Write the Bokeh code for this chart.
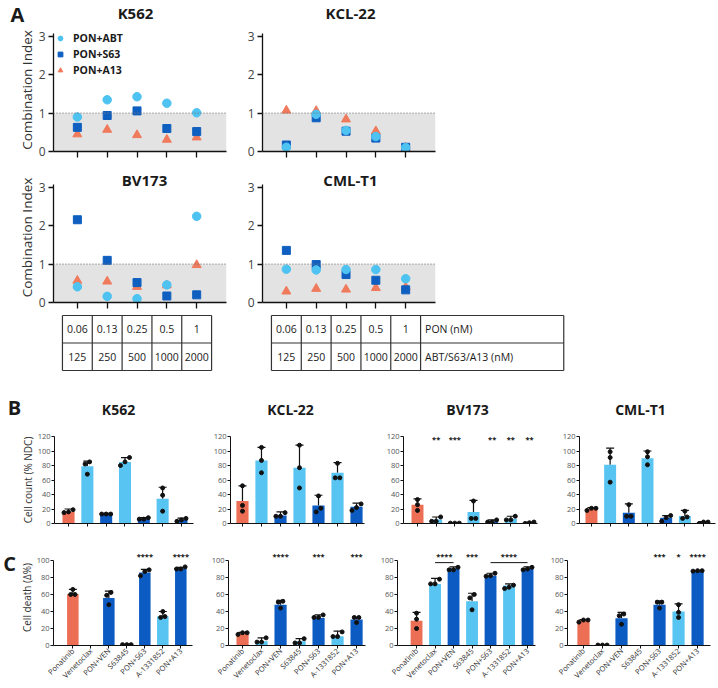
import math
from bokeh.plotting import figure
from bokeh.models import (Range1d, FixedTicker, BoxAnnotation, Span, LabelSet,
                          ColumnDataSource, Legend, LegendItem, Whisker, TeeHead)
from bokeh.layouts import row, column
from bokeh.embed import file_html
from bokeh.resources import INLINE
from bokeh.core.properties import value

FONT = "Open Sans"
INK = "#1a1a1a"

# ---------------- Panel A data (combination index) ----------------
cell_lines = ["K562", "KCL-22", "BV173", "CML-T1"]
panel_letters = ["A", "B", "C"]
pon_nM = ["0.06", "0.13", "0.25", "0.5", "1"]
partner_nM = ["125", "250", "500", "1000", "2000"]
table_row_labels = ["PON (nM)", "ABT/S63/A13 (nM)"]
combo_names = ["PON+ABT", "PON+S63", "PON+A13"]
ci_ticks = [0, 1, 2, 3]

ci_k562_abt = [0.90, 1.35, 1.43, 1.26, 1.01]
ci_k562_s63 = [0.63, 0.94, 1.06, 0.60, 0.52]
ci_k562_a13 = [0.45, 0.57, 0.43, 0.31, 0.37]
ci_kcl22_abt = [0.11, 0.97, 0.55, 0.39, 0.10]
ci_kcl22_s63 = [0.17, 0.88, 0.53, 0.35, 0.11]
ci_kcl22_a13 = [1.07, 1.06, 0.84, 0.53, 0.10]
ci_bv173_abt = [0.41, 0.16, 0.10, 0.46, 2.25]
ci_bv173_s63 = [2.16, 1.10, 0.52, 0.17, 0.20]
ci_bv173_a13 = [0.57, 0.55, 0.41, 0.45, 0.98]
ci_cmlt1_abt = [0.87, 0.85, 0.86, 0.86, 0.62]
ci_cmlt1_s63 = [1.36, 0.99, 0.73, 0.58, 0.33]
ci_cmlt1_a13 = [0.29, 0.36, 0.34, 0.38, 0.40]

# ---------------- Panels B / C data ----------------
drugs = ["Ponatinib", "Venetoclax", "PON+VEN", "S63845", "PON+S63", "A-1331852", "PON+A13"]
count_ticks = [0, 20, 40, 60, 80, 100, 120]
death_ticks = [0, 20, 40, 60, 80, 100]
nan = float("nan")

# B: cell count (% NDC)
cnt_k562_mean = [16, 79, 13, 85, 6.5, 34, 5]
cnt_k562_sd = [4, 7, 1, 6, 1.5, 16, 2.5]
cnt_k562_reps = [[19, 15, 16], [85, 82, 68], [13, 13, 13], [91, 85, 80], [6, 8, 6], [49, 39, 17], [3, 7, 5]]

cnt_kcl22_mean = [31, 87, 11, 77, 25, 70, 23]
cnt_kcl22_sd = [21, 18, 5, 31, 14, 14, 5]
cnt_kcl22_reps = [[52, 25, 17], [105, 87, 70], [15, 10, 10], [108, 77, 49], [38, 16, 21], [83, 63, 63], [27, 18, 22]]

cnt_bv173_mean = [26, 5.5, 0.5, 16, 3, 6.5, 1]
cnt_bv173_sd = [8, 3.5, 0.3, 16, 2, 3.5, 1]
cnt_bv173_reps = [[33, 26, 18], [9, 3, 3], [0.5, 0.5, 0.5], [31, 7, 7], [5, 2, 2], [10, 5, 5], [0, 1, 2]]
cnt_bv173_stars = ["", "**", "***", "", "**", "**", "**"]

cnt_cmlt1_mean = [20.5, 81, 15, 90, 8, 10.5, 1.5]
cnt_cmlt1_sd = [1.5, 23, 12, 10, 3, 7.5, 1]
cnt_cmlt1_reps = [[18, 21, 21], [99, 91, 57], [26, 10, 10], [99, 92, 81], [11, 3, 8], [17, 7, 9], [0, 2, 2]]

# C: cell death (delta %)
dth_k562_mean = [60.5, nan, 56, 1, 86, 34, 90.5]
dth_k562_sd = [5.5, 0, 8, 0.3, 3.5, 6, 1.5]
dth_k562_reps = [[66, 60, 60], [], [62.5, 59, 48], [1, 1, 1], [89, 87, 82], [40, 34, 33], [90, 92.5, 90]]
dth_k562_stars = ["", "", "", "", "****", "", "****"]

dth_kcl22_mean = [14, 5, 48, 5, 32.5, 11, 30.5]
dth_kcl22_sd = [1.5, 4, 5, 3, 3.5, 6, 2.5]
dth_kcl22_reps = [[15, 13, 15], [9, 4, 4], [52, 51, 44], [8, 3, 3], [36, 33, 33], [16, 10.5, 10.5], [33, 33, 27]]
dth_kcl22_stars = ["", "", "****", "", "***", "", "***"]

dth_bv173_mean = [29, 72.5, 91, 52, 82, 70.5, 91]
dth_bv173_sd = [10, 6.5, 1.5, 9.5, 3, 2, 1.5]
dth_bv173_reps = [[38, 31, 20], [78, 72.5, 72.5], [92, 89, 89], [60, 56, 42], [85, 82, 81.5], [71, 67, 68.5], [92, 89, 90]]
dth_bv173_stars = ["", "", "", "***", "", "", ""]
dth_bv173_brackets = [("Venetoclax", "PON+VEN", "****"), ("PON+S63", "PON+A13", "****")]

dth_cmlt1_mean = [29.5, 0.5, 32, nan, 48, 40, 87.5]
dth_cmlt1_sd = [1, 0, 7, 0, 4.5, 9, 0.5]
dth_cmlt1_reps = [[27.5, 30, 30], [0.5, 0.5, 0.5], [37, 35, 25], [], [51, 51, 44], [48, 39, 33], [87.5, 88, 88]]
dth_cmlt1_stars = ["", "", "", "", "***", "*", "****"]

# ---------------- styles ----------------
C_ABT = "#4EC3F1"
C_S63 = "#0F5FC0"
C_A13 = "#F07A5C"
C_PON = "#EC6E55"
C_LIGHT = "#58C4F1"
C_DARK = "#0B5BC3"
drug_colors = [C_PON, C_LIGHT, C_DARK, C_LIGHT, C_DARK, C_LIGHT, C_DARK]


def base_fig(w, h, bl, br, bt, bb, xr, yr, axes=True):
    kw = {} if axes else dict(x_axis_type=None, y_axis_type=None)
    p = figure(width=w, height=h, x_range=xr, y_range=yr, title=None,
               toolbar_location=None, output_backend="svg",
               min_border_left=bl, min_border_right=br,
               min_border_top=bt, min_border_bottom=bb, **kw)
    p.outline_line_color = None
    p.grid.visible = False
    p.background_fill_color = "white"
    p.border_fill_color = "white"
    return p


def text_strip(w, h, items):
    """A strip whose frame is the whole figure: holds panel letters and titles."""
    p = base_fig(w, h, 0, 0, 0, 0, Range1d(0, w), Range1d(h, 0), axes=False)
    for (x, y, t, size) in items:
        p.text(x=[x], y=[y], text=[t], text_align="center", text_baseline="middle",
               text_font=value(FONT), text_font_size=size, text_font_style="bold",
               text_color=INK)
    return p


def style_axis(ax, size, color="#444", line_width=1.0, tick_out=4, standoff=2):
    ax.axis_line_color = "#111"
    ax.axis_line_width = line_width
    ax.major_tick_line_color = "#111"
    ax.major_tick_line_width = line_width
    ax.major_tick_in = 0
    ax.major_tick_out = tick_out
    ax.minor_tick_line_color = None
    ax.major_label_text_font = FONT
    ax.major_label_text_font_size = size
    ax.major_label_text_color = color
    ax.major_label_standoff = standoff
    ax.axis_label_text_font = FONT
    ax.axis_label_text_font_style = "normal"
    ax.axis_label_text_color = "#333"
    ax.axis_label_standoff = 0


def hide_x_labels(ax, ticks):
    ax.major_label_overrides = {t: "" for t in ticks}
    ax.major_label_text_font_size = "1px"
    ax.major_label_standoff = 0


# ---------------- Panel A ----------------
A_XR = (0.2, 6.0)
A_TOP = 3.08
A_PPU_Y = 118 / A_TOP  # pixels per CI unit


def ci_panel(w, h, bl, br, bt, bb, y_end, abt, s63, a13, ylabel=None, legend=False,
             title=None):
    xs = list(range(1, len(pon_nM) + 1))
    p = base_fig(w, h, bl, br, bt, bb, Range1d(*A_XR), Range1d(0, y_end))
    p.add_layout(BoxAnnotation(bottom=0, top=1, fill_color="#e3e3e3", fill_alpha=1.0,
                               line_color=None, level="underlay"))
    p.add_layout(Span(location=1, dimension="width", line_color="#777777",
                      line_dash="1 2", line_width=1.3))
    r3 = p.scatter(xs, a13, marker="triangle", size=9, color=C_A13)
    r2 = p.scatter(xs, s63, marker="square", size=8, color=C_S63)
    r1 = p.scatter(xs, abt, marker="circle", size=8.5, color=C_ABT)
    style_axis(p.yaxis[0], "12px", "#444", line_width=1.3, tick_out=5, standoff=3)
    style_axis(p.xaxis[0], "1px", "#444", line_width=1.3, tick_out=6, standoff=0)
    p.yaxis.ticker = FixedTicker(ticks=ci_ticks)
    p.yaxis.bounds = (0, A_TOP)
    p.xaxis.ticker = FixedTicker(ticks=xs)
    hide_x_labels(p.xaxis[0], xs)
    if ylabel:
        p.yaxis.axis_label = ylabel
        p.yaxis.axis_label_text_font_size = "13.5px"
    if title:
        tx, ty, tt = title
        p.text(x=[tx], y=[ty], text=[tt], text_align="center", text_baseline="middle",
               text_font=value(FONT), text_font_size="15px", text_font_style="bold",
               text_color=INK)
    if legend:
        leg = Legend(items=[LegendItem(label=combo_names[0], renderers=[r1]),
                            LegendItem(label=combo_names[1], renderers=[r2]),
                            LegendItem(label=combo_names[2], renderers=[r3])],
                     location=(1, 74), border_line_color=None, background_fill_alpha=0,
                     label_text_font=FONT, label_text_font_size="10.5px",
                     label_text_font_style="bold", label_text_color=INK,
                     glyph_width=12, glyph_height=12, label_standoff=7,
                     spacing=2, padding=0, margin=0, label_height=12)
        p.add_layout(leg)
    return p


A1_END = A_TOP + 5 / A_PPU_Y    # frame reaches 5 px above the axis top (room for legend)
A2_END = A_TOP + 12 / A_PPU_Y   # frame reaches 12 px above the axis top (room for titles)

sA = text_strip(718, 28, [(17, 14, panel_letters[0], "20px"),
                          (135, 12, cell_lines[0], "15px"),
                          (350, 12, cell_lines[1], "15px")])
pA1 = ci_panel(240, 140, 53, 14, 0, 17, A1_END, ci_k562_abt, ci_k562_s63, ci_k562_a13,
               ylabel="Combination Index", legend=True)
pA2 = ci_panel(232, 140, 22, 37, 0, 17, A1_END, ci_kcl22_abt, ci_kcl22_s63, ci_kcl22_a13)
pA3 = ci_panel(240, 144, 53, 14, 4, 10, A2_END, ci_bv173_abt, ci_bv173_s63, ci_bv173_a13,
               ylabel="Combination Index", title=(3.25, 3.2, cell_lines[2]))
pA4 = ci_panel(232, 144, 22, 37, 4, 10, A2_END, ci_cmlt1_abt, ci_cmlt1_s63, ci_cmlt1_a13,
               title=(3.15, 3.2, cell_lines[3]))

A_PX_PER_UNIT = 173 / (A_XR[1] - A_XR[0])


def table_panel(w, bl, br, with_labels):
    frame_w = w - bl - br
    x_end = A_XR[0] + frame_w / A_PX_PER_UNIT
    p = base_fig(w, 83, bl, br, 1, 23, Range1d(A_XR[0], x_end),
                 Range1d(-0.073, 2.073), axes=False)
    n = len(pon_nM)
    xs = list(range(1, n + 1))
    right = n + 0.5 + (4.8 if with_labels else 0.0)
    vx = [k + 0.5 for k in range(n + 1)] + ([right] if with_labels else [])
    p.segment(x0=vx, y0=[0] * len(vx), x1=vx, y1=[2] * len(vx), line_color="#333", line_width=1.2)
    p.segment(x0=[0.5] * 3, y0=[0, 1, 2], x1=[right] * 3, y1=[0, 1, 2], line_color="#333", line_width=1.2)
    tk = dict(text_align="center", text_baseline="middle", text_font=value(FONT),
              text_font_size="10.5px", text_color=INK)
    p.text(x=xs, y=[1.5] * n, text=pon_nM, **tk)
    p.text(x=xs, y=[0.5] * n, text=partner_nM, **tk)
    if with_labels:
        tl = dict(tk)
        tl["text_align"] = "left"
        p.text(x=[n + 0.65] * 2, y=[1.5, 0.5], text=table_row_labels, **tl)
    return p


pT1 = table_panel(240, 53, 14, False)
pT2 = table_panel(330, 22, 4, True)


# ---------------- Panels B / C ----------------
def swarm(vals, ppu, thresh=5.0, step=0.24):
    order = sorted(range(len(vals)), key=lambda k: vals[k])
    groups = []
    for k in order:
        if groups and (vals[k] - vals[groups[-1][-1]]) * ppu < thresh:
            groups[-1].append(k)
        else:
            groups.append([k])
    offs = [0.0] * len(vals)
    for g in groups:
        n = len(g)
        for j, k in enumerate(g):
            offs[k] = (j - (n - 1) / 2) * step
    return offs


def bar_panel(w, h, bl, br, bt, bb, xr, yr_end, ytop, yticks, mean, sd, reps,
              stars=None, star_y=None, ylabel=None, xlabels=False, brackets=None):
    xs = list(range(1, len(drugs) + 1))
    p = base_fig(w, h, bl, br, bt, bb, Range1d(*xr), Range1d(0, yr_end))
    keep = [i for i in range(len(drugs)) if not math.isnan(mean[i])]
    src = ColumnDataSource(dict(x=[xs[i] for i in keep],
                                top=[mean[i] for i in keep],
                                upper=[mean[i] + sd[i] for i in keep],
                                color=[drug_colors[i] for i in keep]))
    p.vbar(x="x", top="top", width=0.64, fill_color="color", line_color=None, source=src)
    p.add_layout(Whisker(base="x", upper="upper", lower="top", source=src,
                         line_color="#111", line_width=1.2, lower_head=None,
                         upper_head=TeeHead(size=8, line_color="#111", line_width=1.2)))
    ppu = (h - bt - bb) / yr_end
    px, py = [], []
    for i, vals in enumerate(reps):
        if not vals:
            continue
        offs = swarm(vals, ppu)
        for v, o in zip(vals, offs):
            px.append(xs[i] + o)
            py.append(v)
    p.scatter(px, py, marker="circle", size=4, color="#111")
    star_kw = dict(text_align="center", text_baseline="middle", text_font=value(FONT),
                   text_font_size="7.5px", text_font_style="bold", text_color="#111")
    if stars:
        sx = [xs[i] for i, s in enumerate(stars) if s]
        st = [s for s in stars if s]
        p.add_layout(LabelSet(x="x", y="y", text="text",
                              source=ColumnDataSource(dict(x=sx, y=[star_y] * len(sx), text=st)),
                              **star_kw))
    if brackets:
        bx0 = [xs[drugs.index(a)] for a, b, t in brackets]
        bx1 = [xs[drugs.index(b)] for a, b, t in brackets]
        p.segment(x0=bx0, y0=[97.5] * len(bx0), x1=bx1, y1=[97.5] * len(bx0),
                  line_color="#111", line_width=1.0)
        p.add_layout(LabelSet(x="x", y="y", text="text",
                              source=ColumnDataSource(dict(x=[(a + b) / 2 for a, b in zip(bx0, bx1)],
                                                           y=[star_y] * len(bx0),
                                                           text=[t for a, b, t in brackets])),
                              **star_kw))
    style_axis(p.yaxis[0], "7.5px", "#555", line_width=1.0, tick_out=3, standoff=1)
    style_axis(p.xaxis[0], "7.5px", "#333", line_width=1.0, tick_out=3, standoff=1)
    p.yaxis.ticker = FixedTicker(ticks=yticks)
    p.yaxis.bounds = (0, ytop)
    p.xaxis.ticker = FixedTicker(ticks=xs)
    if xlabels:
        p.xaxis.major_label_overrides = {x: d for x, d in zip(xs, drugs)}
        p.xaxis.major_label_orientation = math.pi / 4
    else:
        hide_x_labels(p.xaxis[0], xs)
    if ylabel:
        p.yaxis.axis_label = ylabel
        p.yaxis.axis_label_text_font_size = "10px"
    return p


# strip with panel letter B and the four titles
sB = text_strip(718, 25, [(14, 12, panel_letters[1], "20px"),
                          (118, 14, cell_lines[0], "14px"),
                          (290, 14, cell_lines[1], "14px"),
                          (467, 14, cell_lines[2], "14px"),
                          (640, 14, cell_lines[3], "14px")])

# B row: figures 125 high, frame 87 px for 0..120
pB1 = bar_panel(200, 125, 54, 7, 16, 22, (0.255, 7.64), 120, 120, count_ticks,
                cnt_k562_mean, cnt_k562_sd, cnt_k562_reps, ylabel="Cell count (% NDC)")
pB2 = bar_panel(175, 125, 30, 11, 16, 22, (0.37, 7.42), 120, 120, count_ticks,
                cnt_kcl22_mean, cnt_kcl22_sd, cnt_kcl22_reps)
pB3 = bar_panel(175, 125, 28, 13, 16, 22, (0.25, 7.43), 120, 120, count_ticks,
                cnt_bv173_mean, cnt_bv173_sd, cnt_bv173_reps,
                stars=cnt_bv173_stars, star_y=116)
pB4 = bar_panel(168, 125, 29, 3, 16, 22, (0.36, 7.64), 120, 120, count_ticks,
                cnt_cmlt1_mean, cnt_cmlt1_sd, cnt_cmlt1_reps)

# C row: figures 141 high; 0..100 spans 85 px, frame extends above for the stars
C_END = 100 + 11 / 0.85
sC = text_strip(16, 141, [(9, 20, panel_letters[2], "20px")])
pC1 = bar_panel(184, 141, 32, 8, 4, 41, (-0.075, 7.65), C_END, 100, death_ticks,
                dth_k562_mean, dth_k562_sd, dth_k562_reps, stars=dth_k562_stars, star_y=105,
                ylabel="Cell death (\u0394%)", xlabels=True)
pC2 = bar_panel(172, 141, 28, 7, 4, 41, (0.26, 7.47), C_END, 100, death_ticks,
                dth_kcl22_mean, dth_kcl22_sd, dth_kcl22_reps, stars=dth_kcl22_stars, star_y=105,
                xlabels=True)
pC3 = bar_panel(174, 141, 25, 11, 4, 41, (-0.03, 7.43), C_END, 100, death_ticks,
                dth_bv173_mean, dth_bv173_sd, dth_bv173_reps, stars=dth_bv173_stars, star_y=105,
                xlabels=True, brackets=dth_bv173_brackets)
pC4 = bar_panel(172, 141, 21, 8, 4, 41, (0.16, 7.68), C_END, 100, death_ticks,
                dth_cmlt1_mean, dth_cmlt1_sd, dth_cmlt1_reps, stars=dth_cmlt1_stars, star_y=105,
                xlabels=True)

layout = column(
    sA,
    row(pA1, pA2),
    row(pA3, pA4),
    row(pT1, pT2),
    sB,
    row(pB1, pB2, pB3, pB4),
    row(sC, pC1, pC2, pC3, pC4),
)

open("out.html", "w").write(file_html(layout, INLINE))
